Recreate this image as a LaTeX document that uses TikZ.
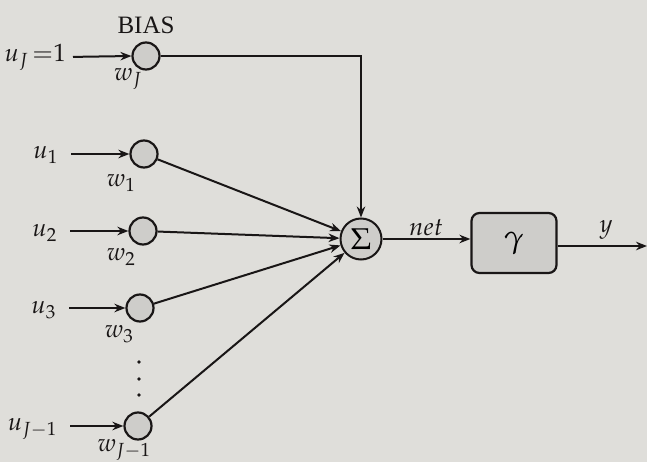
\documentclass[tikz,border=0pt]{standalone}
\usepackage{mathpazo}
\usepackage{fontspec}
\setmainfont{Liberation Serif}
\usetikzlibrary{arrows.meta}
\definecolor{paper}{RGB}{223,222,218}
\definecolor{ink}{RGB}{25,22,22}
\definecolor{cellfill}{RGB}{206,205,202}
\tikzset{
  wcircle/.style={circle,draw=ink,line width=2.2pt,fill=cellfill,minimum size=27pt,inner sep=0pt},
  sumcircle/.style={circle,draw=ink,line width=2pt,fill=cellfill,minimum size=41pt,inner sep=0pt},
  actbox/.style={rectangle,rounded corners=8pt,draw=ink,line width=2.2pt,fill=cellfill,minimum width=85pt,minimum height=60pt},
  lbl/.style={text=ink,inner sep=1pt,font=\fontsize{25}{28}\selectfont},
  conn/.style={draw=ink,line width=2pt,-{Stealth[length=11pt,width=8.5pt]}},
}
\begin{document}
\begin{tikzpicture}[x=1pt,y=-1pt]
\fill[paper] (0,0) rectangle (647,462);
\useasboundingbox (0,0) rectangle (647,462);
% weight circles
\node[wcircle] (cJ) at (146,56) {};
\node[wcircle] (c1) at (144,154) {};
\node[wcircle] (c2) at (143,231) {};
\node[wcircle] (c3) at (140,308) {};
\node[wcircle] (cJm) at (138,426) {};
% summation and activation
\node[sumcircle] (sum) at (361,239) {\fontsize{30}{30}\selectfont$\Sigma$};
\node[actbox] (act) at (514,243) {\fontsize{32}{32}\selectfont$\gamma$};
\coordinate (out) at (647,246);
\coordinate (corner) at (361,56);
% input labels
\node[lbl,anchor=east] (uJ) at (67,57) {$u_J\,{=}1$};
\node[lbl,anchor=east] (u1) at (59,155) {$u_1$};
\node[lbl,anchor=east] (u2) at (58,233) {$u_2$};
\node[lbl,anchor=east] (u3) at (57,310) {$u_3$};
\node[lbl,anchor=east] (uJm) at (58,429) {$u_{J-1}$};
% weight labels
\node[lbl] (wJ) at (128,79) {$w_J$};
\node[lbl] (w1) at (121,183) {$w_1$};
\node[lbl] (w2) at (121,257) {$w_2$};
\node[lbl] (w3) at (119,334) {$w_3$};
\node[lbl] (wJm) at (124,450) {$w_{J-1}$};
\node[lbl] (bias) at (146,25) {BIAS};
\node[lbl] (net) at (426,228) {$net$};
\node[lbl] (y) at (606,230) {$y$};
% dots
\fill[ink] (139,362) circle (1.8pt);
\fill[ink] (139,379) circle (1.8pt);
\fill[ink] (139,395) circle (1.8pt);
% inputs
\draw[conn,shorten <=6pt] (uJ.east) -- (cJ.west);
\draw[conn,shorten <=12pt] (u1.east |- c1) -- (c1.west);
\draw[conn,shorten <=12pt] (u2.east |- c2) -- (c2.west);
\draw[conn,shorten <=12pt] (u3.east |- c3) -- (c3.west);
\draw[conn,shorten <=12pt] (uJm.east |- cJm) -- (cJm.west);
% to summation
\draw[conn] (cJ.east) -- (corner) -- (sum.north);
\draw[conn] (c1) -- (sum);
\draw[conn] (c2) -- (sum);
\draw[conn] (c3) -- (sum);
\draw[conn] (cJm) -- (sum);
% output chain
\draw[conn] (sum.east) -- (act.west |- sum.east);
\draw[conn] (act.east |- out) -- (out);
\end{tikzpicture}
\end{document}
